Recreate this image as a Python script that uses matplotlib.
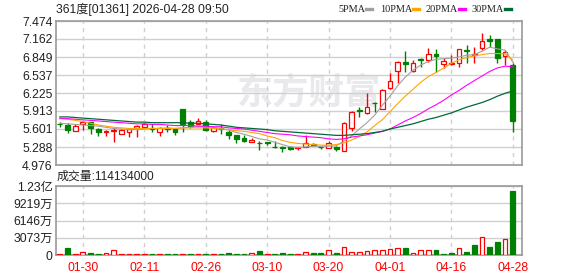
import numpy as np
import matplotlib
matplotlib.use("Agg")
import matplotlib.pyplot as plt
from matplotlib.lines import Line2D

plt.rcParams['font.family'] = ['Liberation Sans', 'Noto Sans CJK SC']

# trading days shown
dates = ['01-27', '01-28', '01-29', '01-30', '02-02', '02-03', '02-04', '02-05', '02-06',
         '02-09', '02-10', '02-11', '02-12', '02-13', '02-16', '02-20', '02-23', '02-24',
         '02-25', '02-26', '02-27', '03-02', '03-03', '03-04', '03-05', '03-06', '03-09',
         '03-10', '03-11', '03-12', '03-13', '03-16', '03-17', '03-18', '03-19', '03-20',
         '03-23', '03-24', '03-25', '03-26', '03-27', '03-30', '03-31', '04-01', '04-02',
         '04-08', '04-09', '04-10', '04-13', '04-14', '04-15', '04-16', '04-17', '04-20',
         '04-21', '04-22', '04-23', '04-24', '04-27', '04-28']
tick_dates = ['01-30', '02-11', '02-26', '03-10', '03-20', '04-01', '04-16', '04-28']

prev_close = 5.65
open_ = [5.69, 5.67, 5.56, 5.68, 5.72, 5.60, 5.55, 5.57, 5.52, 5.54,
         5.61, 5.64, 5.61, 5.55, 5.61, 5.60, 5.94, 5.73, 5.69, 5.73,
         5.56, 5.61, 5.54, 5.49, 5.45, 5.37, 5.36, 5.37, 5.29, 5.29,
         5.28, 5.27, 5.29, 5.34, 5.29, 5.27, 5.29, 5.22, 5.61, 5.93,
         5.87, 6.06, 5.94, 6.31, 6.61, 6.76, 6.61, 6.81, 6.80, 6.90,
         6.72, 6.72, 6.75, 6.97, 6.88, 7.00, 7.16, 7.16, 6.87, 6.71]
high = [5.72, 5.70, 5.69, 5.74, 5.73, 5.62, 5.59, 5.62, 5.60, 5.60,
        5.67, 5.70, 5.68, 5.64, 5.67, 5.62, 5.94, 5.75, 5.79, 5.75,
        5.65, 5.68, 5.58, 5.50, 5.49, 5.45, 5.39, 5.38, 5.40, 5.30,
        5.31, 5.29, 5.50, 5.36, 5.29, 5.39, 5.30, 5.73, 5.92, 5.98,
        6.23, 6.07, 6.29, 6.57, 6.78, 6.95, 6.80, 6.84, 7.00, 6.98,
        6.84, 6.88, 6.99, 7.06, 7.02, 7.26, 7.23, 7.16, 6.97, 6.74]
low = [5.63, 5.53, 5.56, 5.59, 5.52, 5.48, 5.48, 5.38, 5.52, 5.47,
       5.47, 5.64, 5.54, 5.48, 5.55, 5.50, 5.55, 5.62, 5.69, 5.57,
       5.55, 5.51, 5.42, 5.36, 5.37, 5.37, 5.23, 5.33, 5.27, 5.20,
       5.23, 5.24, 5.29, 5.32, 5.26, 5.27, 5.22, 5.22, 5.57, 5.81,
       5.86, 5.89, 5.94, 6.30, 6.40, 6.59, 6.59, 6.68, 6.77, 6.59,
       6.66, 6.71, 6.68, 6.74, 6.75, 6.97, 7.02, 6.75, 6.71, 5.55]
close = [5.68, 5.59, 5.66, 5.73, 5.61, 5.55, 5.57, 5.58, 5.59, 5.60,
         5.65, 5.69, 5.60, 5.61, 5.60, 5.54, 5.69, 5.65, 5.74, 5.58,
         5.62, 5.60, 5.50, 5.43, 5.40, 5.41, 5.35, 5.36, 5.28, 5.27,
         5.26, 5.28, 5.35, 5.33, 5.28, 5.35, 5.25, 5.70, 5.89, 5.92,
         5.99, 6.05, 6.28, 6.44, 6.76, 6.72, 6.74, 6.80, 6.90, 6.86,
         6.78, 6.74, 6.98, 6.96, 6.91, 7.13, 7.12, 6.84, 6.94, 5.74]

ma5 = [5.70, 5.69, 5.68, 5.67, 5.66, 5.65, 5.63, 5.61, 5.60, 5.59,
       5.59, 5.60, 5.61, 5.61, 5.62, 5.61, 5.62, 5.63, 5.64, 5.64,
       5.63, 5.61, 5.58, 5.54, 5.51, 5.47, 5.43, 5.41, 5.37, 5.33,
       5.29, 5.28, 5.29, 5.30, 5.30, 5.30, 5.31, 5.39, 5.48, 5.60,
       5.71, 5.84, 6.01, 6.17, 6.35, 6.50, 6.62, 6.71, 6.77, 6.81,
       6.82, 6.83, 6.85, 6.88, 6.89, 6.95, 7.02, 6.99, 6.97, 6.76]
ma10 = [5.79, 5.77, 5.75, 5.73, 5.70, 5.67, 5.65, 5.63, 5.62, 5.61,
        5.61, 5.61, 5.61, 5.61, 5.61, 5.61, 5.62, 5.62, 5.62, 5.62,
        5.61, 5.60, 5.59, 5.57, 5.56, 5.54, 5.52, 5.48, 5.45, 5.40,
        5.37, 5.35, 5.34, 5.33, 5.32, 5.32, 5.33, 5.36, 5.41, 5.47,
        5.55, 5.66, 5.76, 5.90, 6.04, 6.17, 6.29, 6.41, 6.51, 6.58,
        6.66, 6.74, 6.80, 6.84, 6.87, 6.89, 6.91, 6.91, 6.90, 6.80]
ma20 = [5.78, 5.78, 5.77, 5.76, 5.75, 5.74, 5.73, 5.72, 5.71, 5.70,
        5.69, 5.69, 5.68, 5.68, 5.67, 5.66, 5.66, 5.66, 5.65, 5.65,
        5.64, 5.64, 5.62, 5.61, 5.60, 5.58, 5.56, 5.54, 5.52, 5.51,
        5.50, 5.48, 5.47, 5.46, 5.45, 5.43, 5.42, 5.43, 5.46, 5.48,
        5.50, 5.53, 5.56, 5.60, 5.67, 5.74, 5.80, 5.87, 5.95, 6.02,
        6.10, 6.19, 6.27, 6.36, 6.44, 6.52, 6.60, 6.66, 6.69, 6.68]
ma30 = [5.81, 5.81, 5.80, 5.79, 5.78, 5.77, 5.76, 5.75, 5.74, 5.73,
        5.72, 5.72, 5.71, 5.71, 5.71, 5.71, 5.71, 5.70, 5.70, 5.69,
        5.68, 5.67, 5.65, 5.63, 5.62, 5.61, 5.60, 5.59, 5.57, 5.56,
        5.55, 5.54, 5.53, 5.52, 5.51, 5.50, 5.49, 5.49, 5.50, 5.51,
        5.52, 5.54, 5.56, 5.60, 5.63, 5.66, 5.69, 5.73, 5.77, 5.80,
        5.84, 5.88, 5.93, 5.98, 6.02, 6.06, 6.11, 6.17, 6.22, 6.26]

# volume in 万 shares
volume_wan = [200, 1250, 180, 530, 360, 180, 350, 900, 170, 170,
              170, 160, 160, 170, 160, 160, 200, 160, 170, 160,
              170, 160, 350, 170, 160, 330, 650, 170, 170, 350,
              170, 170, 530, 360, 360, 830, 360, 1360, 530, 480,
              650, 890, 950, 1000, 1200, 1300, 360, 890, 890, 890,
              180, 360, 1190, 590, 1780, 3150, 1420, 2310, 2790, 11413.4]

price_ticks = [4.976, 5.288, 5.601, 5.913, 6.225, 6.537, 6.849, 7.162, 7.474]
vol_ticks = [0, 30730000, 61460000, 92190000, 122920000]
vol_labels = ['0', '3073万', '6146万', '9219万', '1.23亿']

RED = '#ff0000'
GREEN = '#008000'
GRID = '#d0d0d0'
SPINE = '#999999'
TXT = '#222222'

o = np.array(open_)
h = np.array(high)
l = np.array(low)
c = np.array(close)
v = np.array(volume_wan) * 1e4
x = np.arange(len(dates))
pc = np.concatenate([[prev_close], c[:-1]])

up = np.where(c > o, True, np.where(c < o, False, c >= pc))
ccol = np.where(up, RED, GREEN)
cface = np.where(up, 'white', GREEN)
vup = c >= pc
vcol = np.where(vup, RED, GREEN)
vface = np.where(vup, 'white', GREEN)

W, H = 578, 276
fig = plt.figure(figsize=(W / 100, H / 100), dpi=100)
ax = fig.add_axes([56 / W, 1 - 165 / H, 466 / W, 144 / H])
axv = fig.add_axes([56 / W, 1 - 255 / H, 466 / W, 69 / H])

tick_pos = [dates.index(d) for d in tick_dates]

for a in (ax, axv):
    a.set_xlim(-0.5, 60.2)
    a.set_xticks(tick_pos)
    a.xaxis.grid(True, color=GRID, lw=1, ls=(0, (3, 3)))
    a.yaxis.grid(True, color=GRID, lw=1, ls='-')
    a.set_axisbelow(True)
    for s in a.spines.values():
        s.set_color(SPINE)
        s.set_linewidth(1.2)
    a.tick_params(length=0, labelsize=8.8, colors=TXT, pad=2.5)

# watermark
ax.text(309 / W, 1 - 94 / H, '东方财富', transform=fig.transFigure, fontsize=26,
        fontweight='bold', color='#e9e9ed', ha='center', va='center', zorder=0)

# candles
ax.vlines(x, l, h, colors=ccol, lw=1, zorder=2)
body = np.maximum(np.abs(c - o), 0.004)
ax.bar(x, body, bottom=np.minimum(o, c), width=0.62, color=cface,
       edgecolor=ccol, lw=0.9, zorder=3)

ax.plot(x, ma5, color='#a0a0a0', lw=0.8, zorder=4)
ax.plot(x, ma10, color='#ffa500', lw=0.8, zorder=4)
ax.plot(x, ma20, color='#ff00ff', lw=0.8, zorder=4)
ax.plot(x, ma30, color='#006a35', lw=0.9, zorder=4)

ax.set_ylim(price_ticks[0], price_ticks[-1])
ax.set_yticks(price_ticks)
ax.set_yticklabels(['%.3f' % t for t in price_ticks])
ax.set_xticklabels([])

# volume
axv.bar(x, v, width=0.62, color=vface, edgecolor=vcol, lw=0.9, zorder=3)
axv.set_ylim(0, vol_ticks[-1])
axv.set_yticks(vol_ticks)
axv.set_yticklabels(vol_labels)
axv.set_xticklabels(tick_dates)
axv.tick_params(axis='x', colors=RED, pad=5)
axv.tick_params(axis='y', colors=TXT)

# header texts
fig.text(56 / W, 1 - 9 / H, '361度[01361] 2026-04-28 09:50', fontsize=8.7,
         color=TXT, va='center', ha='left')
fig.text(57 / W, 1 - 177 / H, '成交量:114134000', fontsize=8.6,
         color=TXT, va='center', ha='left')

legend = [('5PMA', '#a0a0a0', 338, 366), ('10PMA', '#ffa500', 380, 413),
          ('20PMA', '#ff00ff', 426, 459), ('30PMA', '#006a35', 472, 505)]
for name, col, px, mx in legend:
    fig.text(px / W, 1 - 9 / H, name, fontsize=7.4, color=TXT,
             family=['Liberation Serif'], va='center', ha='left')
    fig.add_artist(Line2D([mx / W, (mx + 6) / W], [1 - 9 / H, 1 - 9 / H],
                          color=col, lw=2.4, transform=fig.transFigure))

fig.savefig('out.png', dpi=100)
